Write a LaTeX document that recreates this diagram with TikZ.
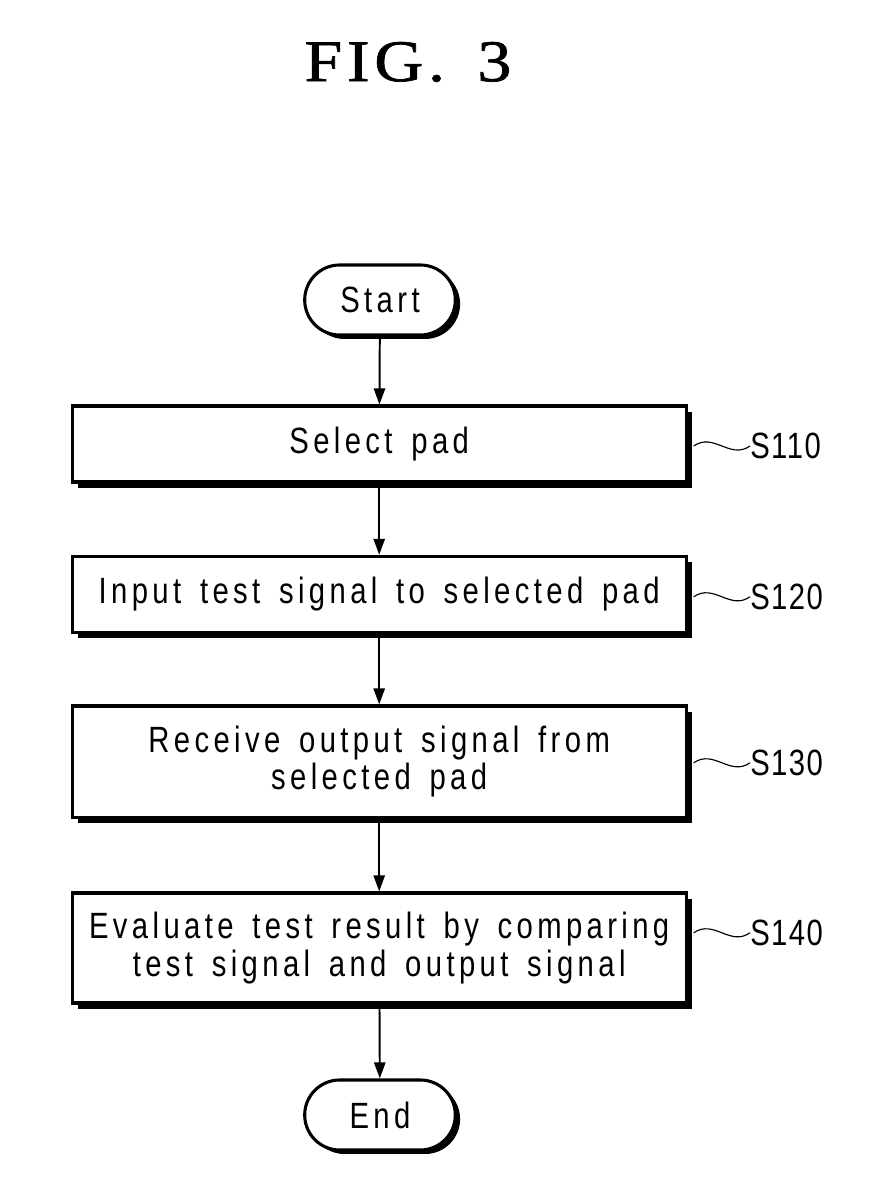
\documentclass[tikz,border=0pt]{standalone}
\usepackage{fontspec}
\setmainfont{Liberation Serif}
\newfontfamily\flowfont[FakeStretch=0.8,LetterSpace=12,WordSpace=1.5]{Liberation Sans}
\newfontfamily\labelfont[FakeStretch=0.8,LetterSpace=4]{Liberation Sans}
\newfontfamily\titlefont[FakeBold=1.2,FakeStretch=1.15,LetterSpace=8]{Liberation Serif}
\usetikzlibrary{shapes.misc}
\usetikzlibrary{shadows}
\usetikzlibrary{arrows.meta}
\usetikzlibrary{positioning}

\begin{document}
\begin{tikzpicture}[
    terminal/.style={rounded rectangle, draw, line width=2.2pt, fill=white,
        minimum width=4cm, minimum height=1.75cm,
        font=\flowfont\fontsize{26}{30}\selectfont,
        drop shadow={shadow xshift=0.12cm, shadow yshift=-0.1cm, fill=black, opacity=1}},
    stepbox/.style={rectangle, draw, line width=2.2pt, fill=white,
        minimum width=15.35cm, align=center,
        font=\flowfont\fontsize{26}{26.5}\selectfont,
        drop shadow={shadow xshift=0.15cm, shadow yshift=-0.15cm, fill=black, opacity=1}},
    steplabel/.style={anchor=west, inner sep=0pt, font=\labelfont\fontsize{26}{30}\selectfont},
    flow/.style={line width=1.4pt, -{Triangle[length=0.4cm,width=0.28cm]}},
    wave/.style={line width=0.8pt, to path={.. controls +(0.5,0.35) and +(-0.5,-0.35) .. (\tikztotarget)}}
]
    \useasboundingbox (0,0) rectangle (22,30);

    \node (title) at (10.2,28.45) {\titlefont\fontsize{42}{48}\selectfont FIG.\hspace{0.55em}3};

    \node[terminal] (start) at (9.5,22.5) {Start};
    \node[stepbox, minimum height=1.9cm] (s110) at (9.48,18.9) {Select pad};
    \node[stepbox, minimum height=1.9cm] (s120) at (9.48,15.14) {Input test signal to selected pad};
    \node[stepbox, minimum height=2.78cm] (s130) at (9.48,10.96) {Receive output signal from\\selected pad};
    \node[stepbox, minimum height=2.75cm] (s140) at (9.48,6.3) {Evaluate test result by comparing\\test signal and output signal};
    \node[terminal] (end) at (9.5,2.125) {End};

    % step labels
    \node[steplabel] (l110) at (18.75,18.85) {S110};
    \node[steplabel] (l120) at (18.75,15.08) {S120};
    \node[steplabel] (l130) at (18.75,10.93) {S130};
    \node[steplabel] (l140) at (18.75,6.68) {S140};

    \draw[flow] (start) -- (s110);
    \draw[flow] (s110) -- (s120);
    \draw[flow] (s120) -- (s130);
    \draw[flow] (s130) -- (s140);
    \draw[flow] (s140) -- (end);

    \draw[wave] ([xshift=0.15cm]s110.east |- l110.west) to (l110.west);
    \draw[wave] ([xshift=0.15cm]s120.east |- l120.west) to (l120.west);
    \draw[wave] ([xshift=0.15cm]s130.east |- l130.west) to (l130.west);
    \draw[wave] ([xshift=0.15cm]s140.east |- l140.west) to (l140.west);
\end{tikzpicture}
\end{document}
